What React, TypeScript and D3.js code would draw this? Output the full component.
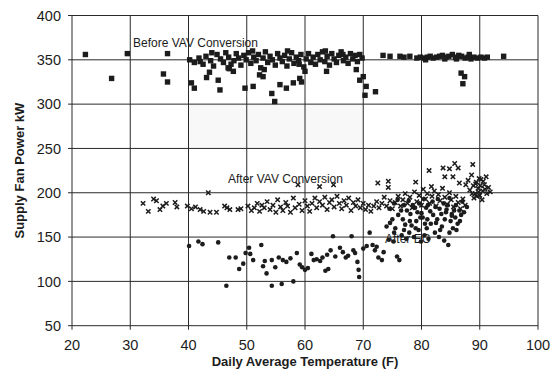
import React from "react";
import * as d3 from "d3";

// temperature (F), supply fan kW
const beforeVav: [number, number][] = [
  [22.3, 356], [26.8, 329], [29.5, 357], [36.4, 357], [35.7, 334], [36.4, 325], [40.5, 324], [41, 318],
  [42, 348], [43.1, 330], [43.6, 336], [45.1, 327], [45.4, 316], [46.8, 341], [47.7, 337], [49.7, 318],
  [51.1, 320], [52.2, 333], [52.8, 331], [54.3, 312], [54.8, 303], [55.7, 322], [56.8, 318], [58, 324],
  [59.1, 329], [59.4, 325], [60, 337], [63.7, 337], [68.8, 339], [69.4, 327], [70.3, 310], [70, 331],
  [70.5, 320], [72.1, 314], [87.4, 331], [86.8, 335], [87.1, 323], [94.1, 354],
  [40.2, 350], [41.0, 347], [41.8, 352], [42.5, 345], [43.0, 354], [43.8, 349], [44.3, 343], [44.9, 356],
  [45.5, 351], [46.0, 347], [46.4, 358], [46.9, 353], [47.3, 345], [47.8, 349], [48.2, 357], [48.6, 352],
  [49.0, 344], [49.5, 355], [49.9, 350], [50.3, 358], [50.7, 346], [51.2, 353], [51.6, 349], [52.0, 356],
  [52.4, 341], [52.8, 352], [53.2, 359], [53.6, 347], [54.0, 354], [54.4, 350], [54.9, 344], [55.3, 357],
  [55.7, 352], [56.1, 348], [56.5, 355], [56.9, 343], [57.3, 351], [57.7, 358], [58.1, 346], [58.5, 353],
  [58.9, 349], [59.3, 356], [59.8, 342], [60.2, 351], [60.6, 357], [61.0, 347], [61.4, 353], [61.8, 345],
  [62.2, 356], [62.6, 350], [63.0, 359], [63.4, 348], [63.8, 354], [64.2, 344], [64.6, 357], [65.0, 351],
  [65.4, 347], [65.8, 355], [66.2, 359], [66.6, 349], [67.0, 353], [67.4, 346], [67.8, 357], [68.2, 351],
  [68.6, 355], [69.0, 348], [69.4, 356], [69.8, 352], [44.0, 358], [51.0, 360], [57.0, 360], [63.5, 360],
  [66.5, 356], [59.0, 345], [47.0, 340], [53.0, 339],
  [73.4, 355], [74.6, 354], [76.3, 354], [77.0, 353], [78.0, 354], [79.2, 352], [79.8, 353], [80.4, 352],
  [81.0, 353], [81.5, 354], [82.0, 352], [82.6, 353], [83.1, 354], [83.6, 355], [84.2, 353], [84.7, 354],
  [85.3, 356], [85.8, 353], [86.4, 355], [86.9, 354], [87.5, 352], [88.0, 353], [88.5, 351], [89.0, 353],
  [89.6, 352], [90.2, 353], [90.8, 352], [91.3, 353], [80.7, 350], [84.0, 351], [86.0, 351], [88.2, 356],
];

const afterVav: [number, number][] = [
  [32.2, 188], [33.1, 179], [34.0, 193], [34.5, 191], [35.1, 181], [35.6, 185], [36.2, 188], [37.7, 189],
  [38.0, 184], [39.8, 185], [40.5, 182], [41.2, 184], [42.0, 181], [42.6, 179], [43.4, 200], [43.7, 178],
  [44.8, 178], [46.2, 185], [46.6, 183], [47.1, 181], [48.5, 181], [49.0, 182], [50.2, 185], [50.8, 180],
  [51.3, 183], [51.8, 188], [52.2, 179], [52.6, 186], [53.0, 183],
  [53.5, 190], [54.0, 181], [54.5, 186], [55.0, 178], [55.3, 192], [55.8, 184], [56.2, 180], [56.7, 189],
  [57.0, 185], [57.5, 178], [58.0, 194], [58.3, 183], [58.8, 209], [59.0, 187], [59.5, 180], [60.0, 191],
  [60.4, 185], [60.8, 179], [61.2, 188], [61.7, 194], [62.0, 183], [62.5, 207], [62.5, 190], [63.0, 186],
  [63.4, 195], [63.8, 181], [64.2, 189], [64.6, 192], [64.9, 209], [65.0, 184], [65.5, 196], [65.9, 188],
  [66.3, 182], [66.7, 191], [67.1, 186], [67.5, 194], [67.9, 180], [68.3, 189], [68.7, 185], [69.1, 192],
  [69.5, 183], [70.0, 188], [70.4, 181], [70.9, 186], [71.3, 179], [71.8, 185], [72.5, 211], [72.3, 190],
  [72.7, 183], [73.2, 188], [73.6, 195], [74.0, 185], [74.3, 213], [74.3, 206], [74.6, 191], [75.0, 182],
  [75.5, 189], [76.0, 196],
  [76.4, 185], [76.8, 192], [77.2, 199], [77.6, 188], [78.0, 195], [78.4, 183], [78.8, 201], [79.0, 212],
  [79.2, 190], [79.6, 197], [80.0, 186], [80.3, 204], [80.7, 193], [81.0, 199], [81.3, 225], [81.4, 188],
  [81.7, 207], [81.8, 196], [82.2, 202], [82.5, 185], [82.9, 198], [83.2, 191], [83.6, 205], [83.7, 228],
  [84.0, 218], [84.0, 195], [84.4, 187], [84.8, 227], [84.8, 200], [85.1, 192], [85.4, 218], [85.5, 184],
  [85.7, 233], [85.9, 196], [86.3, 228], [86.3, 189], [86.5, 211], [86.7, 182], [87.1, 193], [87.5, 186],
  [87.6, 209], [88.0, 214], [88.3, 203], [88.6, 220], [88.8, 232], [88.9, 208], [89.2, 199], [89.4, 212],
  [89.7, 205], [90.0, 197], [90.2, 215], [90.5, 202], [90.8, 209], [91.1, 218], [91.2, 199], [91.5, 206],
  [91.8, 201], [89.0, 194], [90.4, 192], [89.3, 210], [89.8, 201], [90.1, 208], [90.6, 213], [89.5, 196],
  [90.9, 204], [88.7, 199], [89.9, 216],
];

const afterEc: [number, number][] = [
  [40.1, 140], [41.7, 145], [42.4, 142], [45.1, 144], [46.5, 95], [47.0, 127], [48.1, 127], [48.7, 114],
  [49.4, 120], [49.8, 132], [50.4, 138], [50.6, 131], [51.1, 124], [52.5, 141], [52.8, 117], [53.1, 123],
  [53.4, 109], [54.3, 124], [54.3, 95], [54.9, 116], [55.5, 127], [56.0, 97], [56.2, 124], [56.8, 122],
  [57.5, 126], [58.0, 100], [58.6, 132], [59.1, 119], [59.5, 116], [60.0, 113], [60.5, 115], [61.1, 131],
  [61.5, 124], [62.0, 125], [62.6, 123], [63.0, 127], [63.5, 112], [63.8, 130], [64.0, 114], [64.4, 135],
  [64.8, 151], [65.2, 128], [66.0, 138], [66.5, 133], [67.0, 127], [67.4, 129], [68.0, 151], [68.3, 135],
  [68.6, 132], [69.0, 122], [69.2, 113], [69.3, 105], [70.0, 137], [70.6, 140], [71.1, 155], [71.6, 141],
  [72.0, 135], [72.3, 139], [72.6, 127], [73.2, 124], [73.5, 133], [74.0, 162], [74.4, 147], [74.6, 166],
  [75.0, 170], [75.2, 145], [75.8, 128], [76.2, 124], [76.6, 152], [77.0, 158], [77.4, 148], [77.9, 155],
  [78.3, 163], [78.7, 150], [79.1, 168], [79.5, 158], [79.9, 145], [80.2, 172], [80.5, 152], [80.9, 160],
  [81.2, 148], [81.6, 165], [82.0, 175], [82.3, 155], [82.7, 170], [83.0, 150], [83.5, 162], [83.9, 146],
  [84.2, 178], [84.6, 141], [85.0, 168], [85.4, 160], [85.8, 172], [86.2, 165], [76.0, 175], [77.5, 180],
  [78.5, 186], [79.3, 178], [80.8, 183], [81.9, 190], [83.1, 182], [84.5, 186], [85.6, 180], [86.8, 175],
  [87.3, 178], [86.0, 158],
  [74.5, 182], [75.3, 188], [75.9, 192], [76.5, 180], [77.0, 186], [77.8, 191], [78.1, 176], [78.9, 183],
  [79.6, 188], [80.0, 177], [80.4, 193], [81.1, 186], [81.5, 179], [82.4, 184], [82.8, 193], [83.4, 176],
  [83.8, 188], [84.3, 181], [84.8, 194], [85.2, 176], [85.9, 186], [86.5, 180], [87.0, 190], [87.8, 184],
  [76.8, 170], [78.0, 168], [79.8, 172], [81.0, 170], [82.5, 166], [84.0, 170], [85.2, 174], [86.6, 168],
  [75.5, 160], [77.2, 164], [79.0, 160], [80.6, 165], [83.2, 158], [84.8, 155], [75.3, 155],
];

const xTicks = [20, 30, 40, 50, 60, 70, 80, 90, 100];
const yTicks = [50, 100, 150, 200, 250, 300, 350, 400];

const W = 559;
const H = 370;
const ink = "#1c1c1c";

export default function App() {
  const x = d3.scaleLinear().domain([20, 100]).range([72, 538]);
  const y = d3.scaleLinear().domain([50, 400]).range([325.7, 15.5]);
  const font = "Arial, 'Liberation Sans', sans-serif";

  return (
    <div style={{ position: "absolute", left: 0, top: 0 }}>
      <svg width={W} height={H} style={{ display: "block", background: "#fff" }} fontFamily={font}>
        {/* faint scan shading */}
        <rect x={x(40)} y={y(300)} width={x(70) - x(40)} height={y(250) - y(300)} fill="#f8f8f8" />

        {/* grid */}
        {xTicks.map((t) => (
          <line key={"gx" + t} x1={x(t)} x2={x(t)} y1={y(400)} y2={y(50) + 4} stroke="#2a2a2a" strokeWidth={1} />
        ))}
        {yTicks.map((t) => (
          <line key={"gy" + t} x1={x(20) - 4} x2={x(100)} y1={y(t)} y2={y(t)} stroke="#2a2a2a" strokeWidth={1} />
        ))}

        {/* tick labels */}
        {yTicks.map((t) => (
          <text key={"ty" + t} x={61} y={y(t)} dy="0.36em" textAnchor="end" fontSize={14.5} fill={ink}>
            {t}
          </text>
        ))}
        {xTicks.map((t) => (
          <text key={"tx" + t} x={x(t)} y={350} textAnchor="middle" fontSize={14.5} fill={ink}>
            {t}
          </text>
        ))}

        {/* axis titles */}
        <text x={305} y={366} textAnchor="middle" fontSize={13} fontWeight="bold" fill={ink}>
          Daily Average Temperature (F)
        </text>
        <text
          transform={`translate(24,${y(225)}) rotate(-90)`}
          textAnchor="middle"
          fontSize={13}
          fontWeight="bold"
          fill={ink}
        >
          Supply Fan Power kW
        </text>

        {/* series */}
        {beforeVav.map(([t, v], i) => (
          <rect key={"b" + i} x={x(t) - 2.7} y={y(v) - 2.7} width={5.4} height={5.4} fill={ink} />
        ))}
        {afterVav.map(([t, v], i) => (
          <path
            key={"a" + i}
            d={`M${x(t) - 2.2},${y(v) - 2.2}L${x(t) + 2.2},${y(v) + 2.2}M${x(t) - 2.2},${y(v) + 2.2}L${x(t) + 2.2},${y(v) - 2.2}`}
            stroke={ink}
            strokeWidth={1.5}
            fill="none"
          />
        ))}
        {afterEc.map(([t, v], i) => (
          <circle key={"e" + i} cx={x(t)} cy={y(v)} r={2.3} fill={ink} />
        ))}

        {/* series labels */}
        <text x={133} y={47} fontSize={12} fill={ink}>
          Before VAV Conversion
        </text>
        <text x={228} y={183} fontSize={12} fill={ink}>
          After VAV Conversion
        </text>
        <text x={385} y={243} fontSize={12} fill={ink}>
          After EC
        </text>
      </svg>
    </div>
  );
}
